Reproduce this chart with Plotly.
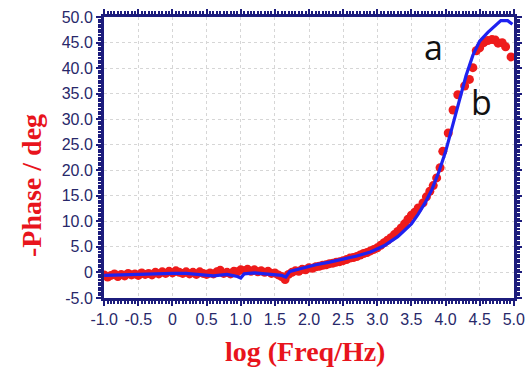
import plotly.graph_objects as go

# Experimental data (red markers)
red_x = [-1.0, -0.95, -0.9, -0.85, -0.8, -0.75, -0.7, -0.65, -0.6, -0.55, -0.5, -0.45, -0.4, -0.35, -0.3, -0.25,
         -0.2, -0.15, -0.1, -0.05, 0.0, 0.05, 0.1, 0.15, 0.2, 0.25, 0.3, 0.35, 0.4, 0.45, 0.5, 0.55,
         0.6, 0.65, 0.7, 0.75, 0.8, 0.85, 0.9, 0.95, 1.0, 1.05, 1.1, 1.15, 1.2, 1.25, 1.3, 1.35,
         1.4, 1.45, 1.5, 1.55, 1.6, 1.65, 1.7, 1.75, 1.8, 1.85, 1.9, 1.95, 2.0, 2.05, 2.1, 2.15,
         2.2, 2.25, 2.3, 2.35, 2.4, 2.45, 2.5, 2.55, 2.6, 2.65, 2.7, 2.75, 2.8, 2.85, 2.9, 2.95,
         3.0, 3.05, 3.1, 3.15, 3.2, 3.25, 3.3, 3.35, 3.4, 3.45, 3.5, 3.55, 3.6, 3.67, 3.72, 3.77,
         3.82, 3.87, 3.92, 3.96, 4.04, 4.11, 4.18, 4.28, 4.35, 4.4, 4.45, 4.5, 4.56, 4.62, 4.68,
         4.73, 4.77, 4.83, 4.88, 4.96]
red_y = [-0.5, -0.9, -0.6, -0.3, -0.8, -0.4, -0.7, -0.2, -0.5, -0.3, -0.6, -0.1, -0.4, -0.2, -0.5, 0.0,
         -0.3, 0.1, -0.2, 0.2, -0.1, 0.3, 0.0, -0.2, 0.1, -0.3, 0.0, -0.4, 0.1, -0.2, -0.4, -0.1,
         -0.3, 0.1, 0.4, -0.2, 0.0, -0.3, 0.2, 0.1, 0.5, 0.3, 0.6, 0.2, 0.5, 0.1, 0.3, 0.0,
         0.2, -0.2, -0.1, -0.5, -0.8, -1.4, -0.4, 0.0, 0.3, 0.2, 0.6, 0.5, 0.9, 0.8, 1.1, 1.2,
         1.4, 1.5, 1.7, 1.8, 2.0, 2.1, 2.3, 2.5, 2.8, 2.9, 3.1, 3.4, 3.7, 3.9, 4.2, 4.5,
         4.8, 5.3, 5.8, 6.3, 6.8, 7.4, 8.0, 8.7, 9.5, 10.4, 11.2, 11.8, 12.6, 13.6, 14.8, 15.9,
         17.0, 18.5, 20.5, 23.7, 27.3, 31.8, 34.8, 36.5, 37.8, 40.1, 43.4, 44.0, 45.0, 45.4, 45.6,
         45.5, 44.9, 45.0, 44.2, 42.2]

# Fitted curve (blue line)
blue_x = [-1.0, -0.8, -0.5, -0.2, 0.0, 0.2, 0.4, 0.6, 0.8, 0.95, 1.0, 1.05, 1.2, 1.4, 1.6, 1.66,
          1.72, 1.9, 2.1, 2.3, 2.5, 2.7, 2.9, 3.1, 3.3, 3.5, 3.6, 3.7, 3.8, 3.9, 4.0, 4.1,
          4.2, 4.3, 4.4, 4.5, 4.62, 4.72, 4.81, 4.91, 4.98]
blue_y = [-0.6, -0.5, -0.4, -0.2, -0.2, -0.2, -0.4, -0.7, -0.4, -0.8, -1.1, -0.3, -0.1, -0.3, -0.6, -0.9,
          0.2, 0.8, 1.5, 2.0, 2.6, 3.2, 4.0, 5.2, 7.0, 9.5, 11.4, 13.6, 16.2, 19.6, 23.6, 28.5,
          33.5, 38.5, 42.5, 45.3, 47.0, 48.3, 49.3, 49.3, 48.6]

x_ticks = [-1.0, -0.5, 0, 0.5, 1.0, 1.5, 2.0, 2.5, 3.0, 3.5, 4.0, 4.5, 5.0]
x_labels = ["-1.0", "-0.5", "0", "0.5", "1.0", "1.5", "2.0", "2.5", "3.0", "3.5", "4.0", "4.5", "5.0"]
y_ticks = [-5, 0, 5, 10, 15, 20, 25, 30, 35, 40, 45, 50]
y_labels = ["-5.0", "0", "5.0", "10.0", "15.0", "20.0", "25.0", "30.0", "35.0", "40.0", "45.0", "50.0"]

navy = "#1c1c7c"
label_col = "#28286a"

fig = go.Figure()
fig.add_trace(go.Scatter(x=red_x, y=red_y, mode="markers",
                         marker=dict(color="#ee1b1b", size=9), showlegend=False))
fig.add_trace(go.Scatter(x=blue_x, y=blue_y, mode="lines",
                         line=dict(color="#1e22f0", width=3.2), showlegend=False))

axis_common = dict(
    showline=True, linecolor=navy, linewidth=3, mirror="allticks",
    ticks="outside", ticklen=5, tickwidth=2, tickcolor=navy,
    showgrid=True, gridcolor="#d6d6d6", griddash="dot", gridwidth=1,
    zeroline=False, automargin=False, ticklabeloverflow="allow",
    tickfont=dict(family="Liberation Sans, Arial", size=16, color=label_col),
)

fig.update_xaxes(range=[-1.003, 5.003], tickvals=x_ticks, ticktext=x_labels,
                 minor=dict(dtick=0.05, ticks="outside", ticklen=3, tickcolor=navy, tickwidth=1.5, showgrid=False),
                 **axis_common)
fig.update_yaxes(range=[-5.02, 50.02], tickvals=y_ticks, ticktext=y_labels,
                 minor=dict(dtick=0.5, ticks="outside", ticklen=3, tickcolor=navy, tickwidth=1.5, showgrid=False),
                 **axis_common)

title_font = dict(family="Liberation Serif, Times New Roman", size=28, color="#e8141c", weight="bold")
fig.add_annotation(text="log (Freq/Hz)", xref="paper", yref="paper", x=0.49, y=-0.189,
                   showarrow=False, font=title_font, xanchor="center", yanchor="middle")
fig.add_annotation(text="-Phase / deg", xref="paper", yref="paper", x=-0.177, y=0.40,
                   showarrow=False, font=title_font, textangle=-90, xanchor="center", yanchor="middle")

lab_font = dict(family="Open Sans, Noto Sans", size=34, color="#111111")
fig.add_annotation(text="a", x=3.82, y=44.1, showarrow=False, font=lab_font)
fig.add_annotation(text="b", x=4.53, y=33.3, showarrow=False, font=lab_font)

fig.update_layout(
    width=525, height=367,
    margin=dict(l=104, r=11, t=17, b=69),
    paper_bgcolor="white", plot_bgcolor="white",
)

fig.write_html("out.html", config={"displayModeBar": False},
               post_script="document.documentElement.style.overflow='hidden';document.body.style.margin='0';document.body.style.padding='0';document.body.style.overflow='hidden';")
